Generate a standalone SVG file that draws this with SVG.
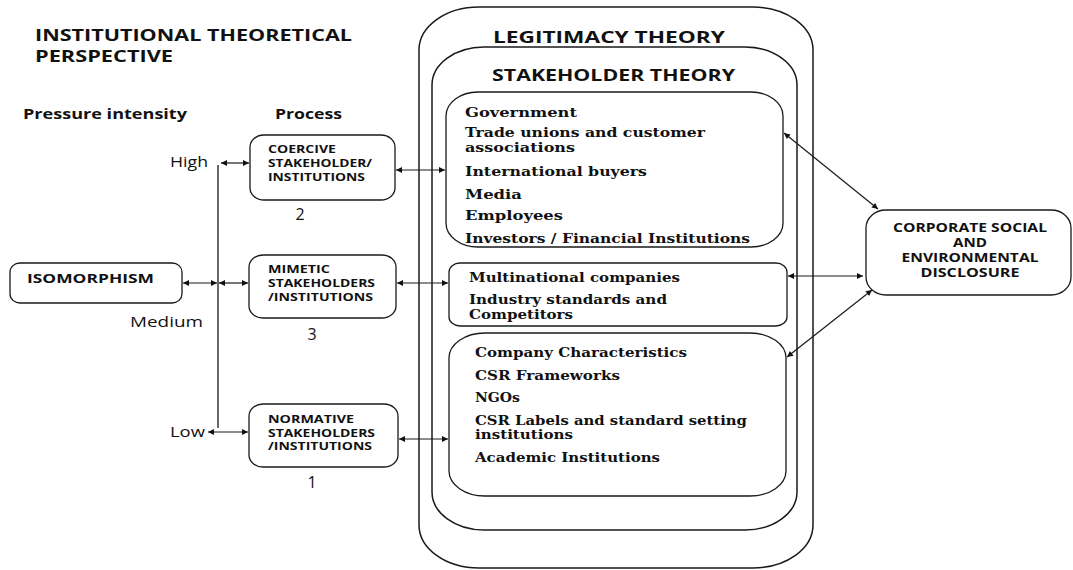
<svg xmlns="http://www.w3.org/2000/svg" width="1073" height="570" viewBox="0 0 1073 570">
  <style>
    .frame { fill: none; stroke: #1a1a1a; stroke-width: 1.5; }
    .box { fill: #ffffff; stroke: #1a1a1a; stroke-width: 1.3; }
    .link { fill: none; stroke: #1a1a1a; stroke-width: 1.2; marker-start: url(#head); marker-end: url(#head); }
    .plain { fill: none; stroke: #1a1a1a; stroke-width: 1.3; }
    .sans { font-family: "Open Sans", "Liberation Sans", sans-serif; font-weight: bold; fill: #111; }
    .reg { font-family: "Open Sans", "Liberation Sans", sans-serif; font-weight: normal; fill: #111; }
    .serif { font-family: "DejaVu Serif", "Liberation Serif", serif; font-weight: bold; font-size: 12.5px; fill: #111; }
    .title { font-size: 15.5px; }
    .small { font-size: 10px; }
    .mid { font-size: 11.5px; }
  </style>
  <defs>
    <marker id="head" viewBox="0 0 10 10" refX="10" refY="5" markerWidth="8" markerHeight="6" markerUnits="userSpaceOnUse" orient="auto-start-reverse">
      <path d="M0,0 L10,5 L0,10 Z" fill="#111"/>
    </marker>
  </defs>

  <!-- headings -->
  <g id="headings">
    <text class="sans title" x="35" y="41" textLength="317" lengthAdjust="spacingAndGlyphs">INSTITUTIONAL THEORETICAL</text>
    <text class="sans title" x="35" y="62" textLength="138" lengthAdjust="spacingAndGlyphs">PERSPECTIVE</text>
    <text class="sans" font-size="15" x="23" y="119" textLength="164" lengthAdjust="spacingAndGlyphs">Pressure intensity</text>
    <text class="sans" font-size="15" x="275" y="119" textLength="67" lengthAdjust="spacingAndGlyphs">Process</text>
  </g>

  <!-- legitimacy theory frame -->
  <g id="legitimacy-theory">
    <rect class="frame" x="419" y="7" width="394" height="561" rx="60" ry="43"/>
    <text class="sans title" x="493" y="43" textLength="232" lengthAdjust="spacingAndGlyphs">LEGITIMACY THEORY</text>
  </g>

  <!-- stakeholder theory frame -->
  <g id="stakeholder-theory">
    <rect class="frame" x="432" y="47" width="365" height="483" rx="52" ry="38"/>
    <text class="sans title" x="492" y="81" textLength="243" lengthAdjust="spacingAndGlyphs">STAKEHOLDER THEORY</text>
  </g>

  <!-- coercive stakeholder group -->
  <g id="coercive-group">
    <rect class="box" x="446" y="92" width="337" height="155" rx="32" ry="24"/>
    <text class="serif" x="465" y="117" textLength="112" lengthAdjust="spacingAndGlyphs">Government</text>
    <text class="serif" x="465" y="137" textLength="240" lengthAdjust="spacingAndGlyphs">Trade unions and customer</text>
    <text class="serif" x="465" y="152" textLength="110" lengthAdjust="spacingAndGlyphs">associations</text>
    <text class="serif" x="465" y="176" textLength="182" lengthAdjust="spacingAndGlyphs">International buyers</text>
    <text class="serif" x="465" y="199" textLength="57" lengthAdjust="spacingAndGlyphs">Media</text>
    <text class="serif" x="465" y="220" textLength="98" lengthAdjust="spacingAndGlyphs">Employees</text>
    <text class="serif" x="465" y="243" textLength="285" lengthAdjust="spacingAndGlyphs">Investors / Financial Institutions</text>
  </g>

  <!-- mimetic stakeholder group -->
  <g id="mimetic-group">
    <rect class="box" x="449" y="263" width="338" height="63" rx="11" ry="9"/>
    <text class="serif" x="469" y="282" textLength="211" lengthAdjust="spacingAndGlyphs">Multinational companies</text>
    <text class="serif" x="469" y="304" textLength="198" lengthAdjust="spacingAndGlyphs">Industry standards and</text>
    <text class="serif" x="469" y="319" textLength="104" lengthAdjust="spacingAndGlyphs">Competitors</text>
  </g>

  <!-- normative stakeholder group -->
  <g id="normative-group">
    <rect class="box" x="449" y="333" width="337" height="163" rx="36" ry="25"/>
    <text class="serif" x="475" y="357" textLength="212" lengthAdjust="spacingAndGlyphs">Company Characteristics</text>
    <text class="serif" x="475" y="380" textLength="145" lengthAdjust="spacingAndGlyphs">CSR Frameworks</text>
    <text class="serif" x="475" y="402" textLength="45" lengthAdjust="spacingAndGlyphs">NGOs</text>
    <text class="serif" x="475" y="425" textLength="272" lengthAdjust="spacingAndGlyphs">CSR Labels and standard setting</text>
    <text class="serif" x="475" y="439" textLength="98" lengthAdjust="spacingAndGlyphs">institutions</text>
    <text class="serif" x="475" y="462" textLength="185" lengthAdjust="spacingAndGlyphs">Academic Institutions</text>
  </g>

  <!-- process boxes -->
  <g id="coercive">
    <rect class="box" x="250" y="135" width="145" height="65" rx="14" ry="12"/>
    <text class="sans small" x="268" y="153" textLength="68" lengthAdjust="spacingAndGlyphs">COERCIVE</text>
    <text class="sans small" x="268" y="167" textLength="104" lengthAdjust="spacingAndGlyphs">STAKEHOLDER/</text>
    <text class="sans small" x="268" y="181" textLength="97" lengthAdjust="spacingAndGlyphs">INSTITUTIONS</text>
    <text class="reg" font-size="16" x="300" y="220" text-anchor="middle">2</text>
  </g>

  <g id="mimetic">
    <rect class="box" x="249" y="255" width="147" height="63" rx="14" ry="12"/>
    <text class="sans small" x="268" y="273" textLength="62" lengthAdjust="spacingAndGlyphs">MIMETIC</text>
    <text class="sans small" x="268" y="287" textLength="107" lengthAdjust="spacingAndGlyphs">STAKEHOLDERS</text>
    <text class="sans small" x="268" y="301" textLength="105" lengthAdjust="spacingAndGlyphs">/INSTITUTIONS</text>
    <text class="reg" font-size="16" x="312" y="340" text-anchor="middle">3</text>
  </g>

  <g id="normative">
    <rect class="box" x="249" y="404" width="149" height="63" rx="14" ry="12"/>
    <text class="sans small" x="268" y="423" textLength="86" lengthAdjust="spacingAndGlyphs">NORMATIVE</text>
    <text class="sans small" x="268" y="437" textLength="107" lengthAdjust="spacingAndGlyphs">STAKEHOLDERS</text>
    <text class="sans small" x="268" y="450" textLength="104" lengthAdjust="spacingAndGlyphs">/INSTITUTIONS</text>
    <text class="reg" font-size="16" x="312" y="488" text-anchor="middle">1</text>
  </g>

  <g id="isomorphism">
    <rect class="box" x="10" y="263" width="172" height="40" rx="10" ry="9"/>
    <text class="sans mid" x="27" y="283" textLength="127" lengthAdjust="spacingAndGlyphs">ISOMORPHISM</text>
  </g>

  <g id="disclosure">
    <rect class="box" x="866" y="210" width="205" height="85" rx="20" ry="18"/>
    <text class="sans mid" x="970" y="232" text-anchor="middle" textLength="154" lengthAdjust="spacingAndGlyphs">CORPORATE SOCIAL</text>
    <text class="sans mid" x="970" y="247" text-anchor="middle" textLength="34" lengthAdjust="spacingAndGlyphs">AND</text>
    <text class="sans mid" x="970" y="262" text-anchor="middle" textLength="137" lengthAdjust="spacingAndGlyphs">ENVIRONMENTAL</text>
    <text class="sans mid" x="970" y="277" text-anchor="middle" textLength="99" lengthAdjust="spacingAndGlyphs">DISCLOSURE</text>
  </g>

  <!-- pressure intensity scale -->
  <g id="intensity-scale">
    <text class="reg" font-size="14" x="170" y="167" textLength="38" lengthAdjust="spacingAndGlyphs">High</text>
    <text class="reg" font-size="14" x="130" y="327" textLength="73" lengthAdjust="spacingAndGlyphs">Medium</text>
    <text class="reg" font-size="14" x="170" y="437" textLength="35" lengthAdjust="spacingAndGlyphs">Low</text>
  </g>

  <!-- connectors -->
  <g id="connectors">
    <line class="plain" x1="218" y1="165" x2="218" y2="428"/>
    <line class="link" x1="221" y1="163" x2="249" y2="163"/>
    <line class="link" x1="208" y1="432" x2="248" y2="432"/>
    <line class="link" x1="183" y1="283" x2="217" y2="283"/>
    <line class="link" x1="219" y1="283" x2="248" y2="283"/>
    <line class="link" x1="396" y1="170" x2="445" y2="170"/>
    <line class="link" x1="397" y1="283" x2="448" y2="283"/>
    <line class="link" x1="399" y1="439" x2="448" y2="439"/>
    <line class="link" x1="784" y1="133" x2="878" y2="209"/>
    <line class="link" x1="788" y1="276" x2="863" y2="276"/>
    <line class="link" x1="787" y1="357" x2="872" y2="290"/>
  </g>
</svg>
